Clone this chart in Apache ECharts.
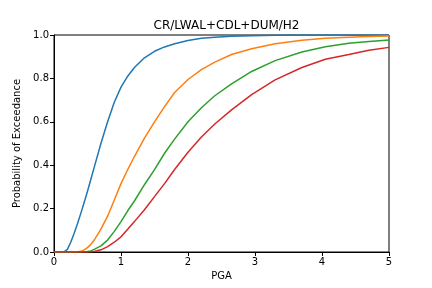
<!DOCTYPE html>
<html>
<head>
<meta charset="utf-8">
<script src="https://cdn.jsdelivr.net/npm/echarts@6/dist/echarts.min.js"></script>
<style>
  html, body { margin: 0; padding: 0; background: #fff; }
  #chart { width: 432px; height: 288px; }
</style>
</head>
<body>
<div id="chart"></div>
<script>
// PGA sample points shared by all curves
const pga = [0, 0.1, 0.15, 0.2, 0.25, 0.3, 0.35, 0.4, 0.45, 0.5, 0.55, 0.6, 0.7, 0.8, 0.9, 1.0,
  1.1, 1.2, 1.35, 1.5, 1.65, 1.8, 2.0, 2.2, 2.4, 2.65, 2.95, 3.3, 3.7, 4.05, 4.4, 4.7, 5.0];

// probability of exceedance
const blue = [0, 0, 0.001, 0.012, 0.045, 0.085, 0.13, 0.178, 0.228, 0.28, 0.335, 0.39, 0.50, 0.60, 0.69, 0.76,
  0.81, 0.85, 0.895, 0.925, 0.945, 0.96, 0.975, 0.985, 0.99, 0.994, 0.997, 0.999, 1, 1, 1, 1, 1];
const orange = [0, 0, 0, 0, 0, 0, 0.001, 0.003, 0.01, 0.02, 0.035, 0.055, 0.105, 0.165, 0.24, 0.315,
  0.38, 0.44, 0.525, 0.60, 0.67, 0.735, 0.795, 0.84, 0.875, 0.91, 0.937, 0.96, 0.976, 0.985, 0.99, 0.993, 0.995];
const green = [0, 0, 0, 0, 0, 0, 0, 0, 0.001, 0.002, 0.005, 0.012, 0.028, 0.055, 0.095, 0.14,
  0.19, 0.235, 0.31, 0.38, 0.455, 0.52, 0.6, 0.665, 0.72, 0.775, 0.832, 0.882, 0.922, 0.946, 0.962, 0.97, 0.977];
const red = [0, 0, 0, 0, 0, 0, 0, 0, 0, 0, 0.001, 0.002, 0.01, 0.025, 0.045, 0.07,
  0.105, 0.14, 0.195, 0.255, 0.315, 0.38, 0.46, 0.53, 0.59, 0.655, 0.725, 0.793, 0.85, 0.888, 0.91, 0.93, 0.943];

const curves = [
  { vals: blue, color: '#1f77b4' },
  { vals: orange, color: '#ff7f0e' },
  { vals: green, color: '#2ca02c' },
  { vals: red, color: '#d62728' },
];

const font = 'DejaVu Sans';
const chart = echarts.init(document.getElementById('chart'), null, { renderer: 'canvas' });

chart.setOption({
  animation: false,
  backgroundColor: '#fff',
  title: {
    text: 'CR/LWAL+CDL+DUM/H2',
    left: 221.5,
    top: 15,
    textAlign: 'center',
    textStyle: { fontFamily: font, fontSize: 12, fontWeight: 'normal', color: '#000' },
  },
  grid: {
    left: 54, right: 43, top: 35, bottom: 36,
    show: true, borderColor: '#000', borderWidth: 1, backgroundColor: 'transparent',
  },
  xAxis: {
    type: 'value',
    min: 0, max: 5, interval: 1,
    name: 'PGA',
    nameLocation: 'middle',
    nameGap: 19,
    nameTextStyle: { fontFamily: font, fontSize: 10, color: '#000' },
    axisLine: { show: true, lineStyle: { color: '#000', width: 1 } },
    axisTick: { show: true, length: 4, lineStyle: { color: '#000' } },
    axisLabel: { fontFamily: font, fontSize: 10, color: '#000', margin: 5 },
    splitLine: { show: false },
  },
  yAxis: {
    type: 'value',
    min: 0, max: 1, interval: 0.2,
    name: 'Probability of Exceedance',
    nameLocation: 'middle',
    nameGap: 25,
    nameTextStyle: { fontFamily: font, fontSize: 10, color: '#000' },
    axisLine: { show: true, lineStyle: { color: '#000', width: 1 } },
    axisTick: { show: true, length: 4, lineStyle: { color: '#000' } },
    axisLabel: {
      fontFamily: font, fontSize: 10, color: '#000', margin: 5,
      formatter: v => v.toFixed(1),
    },
    splitLine: { show: false },
  },
  series: curves.map(c => ({
    type: 'line',
    data: pga.map((x, i) => [x, c.vals[i]]),
    showSymbol: false,
    smooth: false,
    lineStyle: { color: c.color, width: 1.5 },
    itemStyle: { color: c.color },
  })),
});
</script>
</body>
</html>
